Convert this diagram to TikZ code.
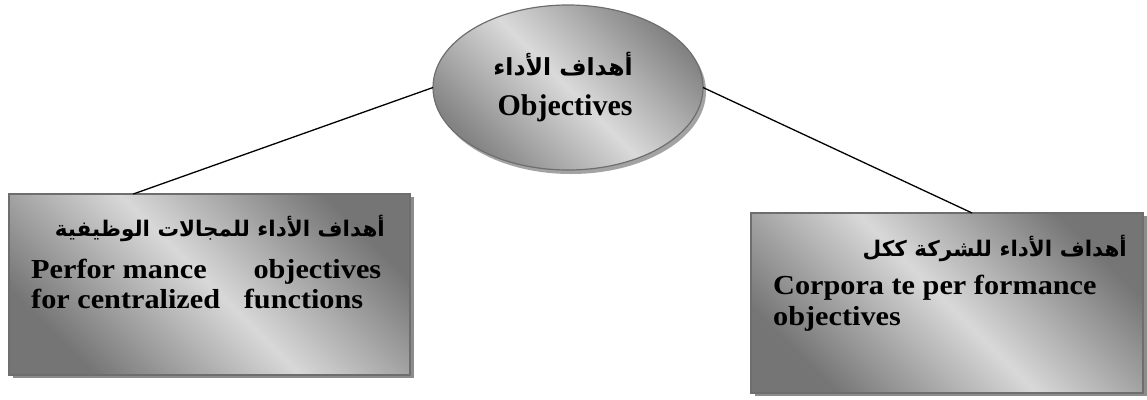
\documentclass[tikz,border=0pt]{standalone}
\usepackage{fontspec}
\usetikzlibrary{shapes.geometric,shadows,calc}
\setmainfont{Liberation Serif}
\newfontfamily\arabicfont[Script=Arabic]{DejaVu Sans}
\newfontfamily\boxfont[FakeStretch=1.1]{Liberation Serif}
\TeXXeTstate=1
\definecolor{edge}{HTML}{6E6E6E}
\definecolor{dark}{HTML}{757575}
\definecolor{light}{HTML}{D8D8D8}
\definecolor{shadowc}{HTML}{8C8C8C}
\tikzset{
  panel/.style={rectangle, draw=edge, line width=1.2pt, outer sep=0pt,
    top color=dark, bottom color=dark, middle color=light, shading angle=-45,
    drop shadow={shadow xshift=4pt, shadow yshift=-3pt, fill=shadowc, opacity=1}},
  oval/.style={ellipse, draw=edge, line width=1.2pt, outer sep=0pt,
    top color=dark!90, bottom color=dark!90, middle color=light!95!white, shading angle=-45,
    drop shadow={shadow xshift=3pt, shadow yshift=-4pt, fill=shadowc!80, opacity=1}},
  conn/.style={draw=black, line width=1.3pt},
  artxt/.style={font=\arabicfont\bfseries\fontsize{21.5}{26}\selectfont, inner sep=0pt},
  entxt/.style={font=\boxfont\bfseries\fontsize{27.5}{30}\selectfont, inner sep=0pt, anchor=base west},
}
\begin{document}
\begin{tikzpicture}[x=1pt,y=-1pt]
\useasboundingbox (0,0) rectangle (1147,399);
% central ellipse
\node[oval, minimum width=270pt, minimum height=165pt] (obj) at (568,87.5) {};
\node[artxt, font=\arabicfont\bfseries\fontsize{23.5}{28}\selectfont, anchor=base] (objar) at (563,75) {\beginR أهداف الأداء\endR};
\node[font=\bfseries\fontsize{30}{36}\selectfont, inner sep=0pt, anchor=base] (objen) at (565,115) {Objectives};
% left box
\node[panel, minimum width=401pt, minimum height=181pt] (lbox) at (209.5,284.5) {};
\node[artxt, anchor=base east] (lar) at (385,236) {\beginR أهداف الأداء للمجالات الوظيفية\endR};
\node[entxt] (len1) at (31,278) {\makebox[350pt][l]{Perfor mance\hfill objectives}};
\node[entxt] (len2) at (31,308) {\makebox[332pt][l]{for centralized\hfill functions}};
% right box
\node[panel, minimum width=392pt, minimum height=180pt] (rbox) at (947,303) {};
\node[artxt, anchor=base east] (rar) at (1127,256) {\beginR أهداف الأداء للشركة ككل\endR};
\node[entxt] (ren1) at (773,294) {Corpora te per formance};
\node[entxt] (ren2) at (773,325) {objectives};
% connectors
\draw[conn] ($(lbox.north west)!0.31!(lbox.north east)$) -- (obj.west);
\draw[conn] (obj.east) -- ($(rbox.north west)!0.564!(rbox.north east)$);
\end{tikzpicture}
\end{document}
